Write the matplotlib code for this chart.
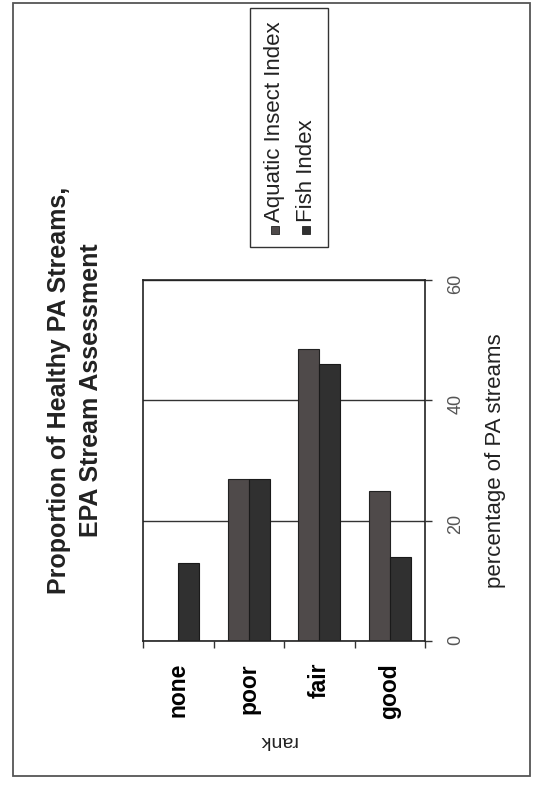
import matplotlib.pyplot as plt
from matplotlib.patches import Rectangle

ranks = ["none", "poor", "fair", "good"]
aquatic_insect = [0, 27, 48.5, 25]
fish = [13, 27, 46, 14]
value_ticks = [0, 20, 40, 60]

W, H = 535, 785


def fx(px):
    return px / W


def fy(py):
    return 1 - py / H


plt.rcParams['font.family'] = ['Liberation Sans', 'DejaVu Sans']

aq_color = "#4f4a4a"
fish_color = "#303030"

fig = plt.figure(figsize=(W / 100, H / 100), dpi=100)
ax = fig.add_axes([fx(143), fy(641), (425 - 143) / W, (641 - 280) / H])

x = list(range(len(ranks)))
ax.bar([i - 0.15 for i in x], aquatic_insect, width=0.3, color=aq_color,
       edgecolor="#222222", linewidth=0.8)
ax.bar([i + 0.15 for i in x], fish, width=0.3, color=fish_color,
       edgecolor="#1a1a1a", linewidth=0.8)

ax.set_xlim(-0.5, 3.5)
ax.set_ylim(0, 60)
ax.yaxis.grid(True, color="#333333", linewidth=1)
ax.set_axisbelow(True)
for s in ax.spines.values():
    s.set_color("#222222")
    s.set_linewidth(1.2)

ax.set_xticks(x, ranks)
ax.set_xticks([-0.5, 0.5, 1.5, 2.5, 3.5], minor=True)
ax.tick_params(axis='x', which='major', length=0, pad=15.8, labelsize=16.5,
               labelrotation=90)
for lbl in ax.get_xticklabels():
    lbl.set_fontweight('bold')
    lbl.set_va('top')
ax.tick_params(axis='x', which='minor', length=5, width=1, direction='out',
               color="#333333")

ax.yaxis.tick_right()
ax.set_yticks(value_ticks)
ax.tick_params(axis='y', length=5, width=1, direction='out', color="#333333",
               labelrotation=90, labelsize=13, labelcolor="#555555", pad=11)

# axis titles
fig.text(fx(495), fy(461), "percentage of PA streams", rotation=90,
         ha='center', va='center', fontsize=16, color="#222222")
fig.text(fx(277), fy(741), "rank", rotation=180, ha='center', va='center',
         fontsize=14, color="#222222")

# title
fig.text(fx(75), fy(390), "Proportion of Healthy PA Streams,\nEPA Stream Assessment",
         rotation=90, ha='center', va='center', fontsize=18, fontweight='bold',
         linespacing=1.4, multialignment='center', color="#222222")

# legend (rotated, drawn by hand)
fig.patches.append(Rectangle((fx(250), fy(247)), (328 - 250) / W, (247 - 8) / H,
                             transform=fig.transFigure, fill=False,
                             edgecolor="#333333", linewidth=1))
for xc, name, col in [(275, "Aquatic Insect Index", aq_color),
                      (306, "Fish Index", fish_color)]:
    fig.patches.append(Rectangle((fx(xc - 4), fy(234)), 8 / W, 8 / H,
                                 transform=fig.transFigure, facecolor=col,
                                 edgecolor="#222222", linewidth=0.6))
    fig.text(fx(xc), fy(222), name, rotation=90, ha='center', va='bottom',
             fontsize=16, color="#222222")

# outer frame
fig.patches.append(Rectangle((fx(13), fy(776)), (530 - 13) / W, (776 - 3) / H,
                             transform=fig.transFigure, fill=False,
                             edgecolor="#555555", linewidth=1.3))

fig.savefig("out.png", dpi=100)
